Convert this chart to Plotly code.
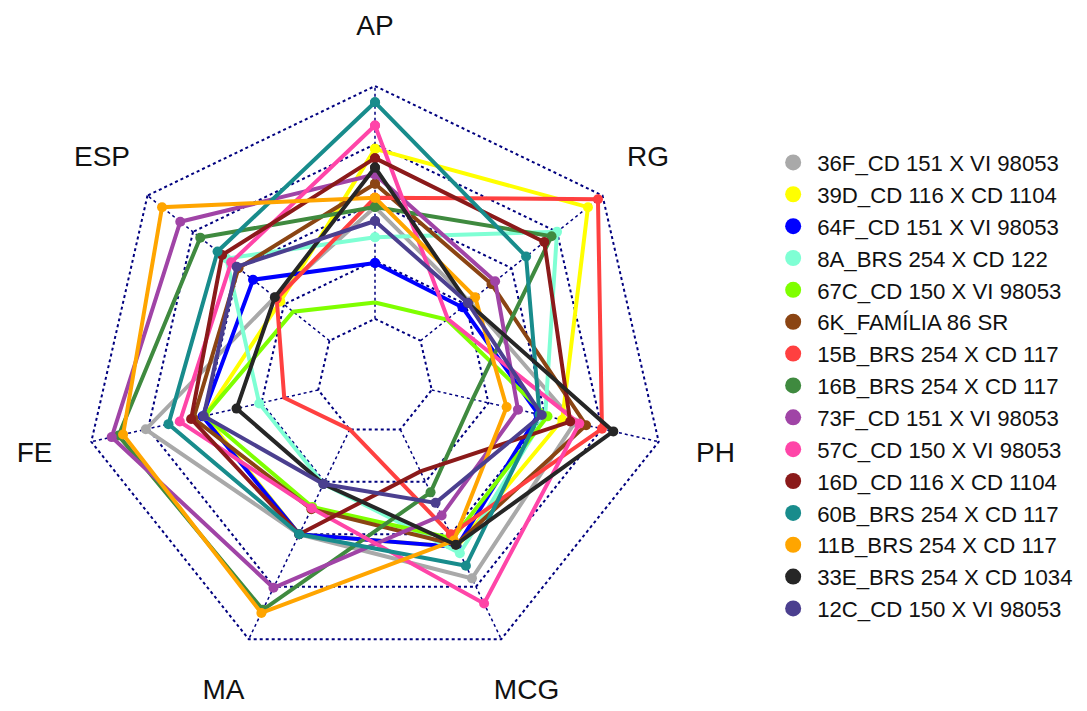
import math
import plotly.graph_objects as go

axes = ["AP", "RG", "PH", "MCG", "MA", "FE", "ESP"]

names = [
    "36F_CD 151 X VI 98053",
    "39D_CD 116 X CD 1104",
    "64F_CD 151 X VI 98053",
    "8A_BRS 254 X CD 122",
    "67C_CD 150 X VI 98053",
    "6K_FAMÍLIA 86 SR",
    "15B_BRS 254 X CD 117",
    "16B_BRS 254 X CD 117",
    "73F_CD 151 X VI 98053",
    "57C_CD 150 X VI 98053",
    "16D_CD 116 X CD 1104",
    "60B_BRS 254 X CD 117",
    "11B_BRS 254 X CD 117",
    "33E_BRS 254 X CD 1034",
    "12C_CD 150 X VI 98053",
]

colors = [
    "#A9A9A9", "#FFFF00", "#0000FF", "#7FFFD4", "#7FFF00",
    "#8B4513", "#FF4040", "#3F8A3F", "#A044A6", "#FF45A8",
    "#8B1A1A", "#188C8C", "#FFA500", "#262626", "#4B3F8F",
]

# normalized scores (0 = inner ring, 1 = outer ring), order: AP, RG, PH, MCG, MA, FE, ESP
v_36F = [0.48, 0.27, 0.63, 0.71, 0.50, 0.76, 0.30]
v_39D = [0.73, 0.92, 0.575, 0.56, 0.50, 0.50, 0.27]
v_64F = [0.24, 0.23, 0.47, 0.56, 0.50, 0.51, 0.42]
v_8A = [0.35, 0.75, 0.50, 0.59, 0.26, 0.26, 0.566]
v_67C = [0.07, 0.145, 0.51, 0.52, 0.37, 0.50, 0.20]
v_6K = [0.58, 0.39, 0.68, 0.55, 0.38, 0.55, 0.50]
v_15B = [0.52, 0.975, 0.75, 0.50, 0.0, 0.15, 0.29]
v_16B = [0.48, 0.72, 0.18, 0.30, 0.86, 0.88, 0.71]
v_73F = [0.62, 0.41, 0.38, 0.41, 0.755, 0.91, 0.82]
v_57C = [0.83, 0.15, 0.65, 0.83, 0.376, 0.61, 0.54]
v_16D = [0.69, 0.68, 0.61, 0.20, 0.50, 0.56, 0.59]
v_60B = [0.93, 0.58, 0.475, 0.65, 0.50, 0.66, 0.615]
v_11B = [0.52, 0.30, 0.33, 0.53, 0.875, 0.86, 0.92]
v_33E = [0.65, 0.26, 0.80, 0.55, 0.26, 0.36, 0.30]
v_12C = [0.42, 0.26, 0.485, 0.35, 0.26, 0.505, 0.51]

series = [v_36F, v_39D, v_64F, v_8A, v_67C, v_6K, v_15B, v_16B,
          v_73F, v_57C, v_16D, v_60B, v_11B, v_33E, v_12C]

grid_levels = [0, 0.25, 0.5, 0.75, 1.0]
R_MIN, R_MAX = -0.25, 1.02          # inner hole = 1/5 of the outer ring
LABEL_FRAC = 1.2                    # labels at 1.2 x outer ring radius
FONT = "Arial, Liberation Sans, sans-serif"
GRID = "#00007F"
W, H = 1087, 711

dom_x = [0.07299, 0.61698]
dom_y = [0.05392, 0.88560]

# overlay cartesian frame (full figure) sharing the polar centre and scale
span = (R_MAX - R_MIN) / (1 - R_MIN)          # polar domain half-size, in outer-ring units
cx = (dom_x[0] + dom_x[1]) / 2
cy = (dom_y[0] + dom_y[1]) / 2
half_px = (dom_x[1] - dom_x[0]) * W / 2
unit_px = half_px / span
x_range = [-cx * W / unit_px, (1 - cx) * W / unit_px]
y_range = [-cy * H / unit_px, (1 - cy) * H / unit_px]

fig = go.Figure()

# spokes from inner ring to outer ring
spoke_r, spoke_t = [], []
for a in axes:
    spoke_r += [0, 1, None]
    spoke_t += [a, a, None]
fig.add_trace(go.Scatterpolar(r=spoke_r, theta=spoke_t, mode="lines",
                              line=dict(color=GRID, width=1.5, dash="dot"),
                              showlegend=False, hoverinfo="skip"))

for name, vals, col in zip(names, series, colors):
    fig.add_trace(go.Scatterpolar(
        r=vals + [vals[0]], theta=axes + [axes[0]],
        mode="lines+markers", name=name,
        line=dict(color=col, width=4),
        marker=dict(color=col, size=10),
        showlegend=False,
    ))

# legend entries (dots only)
for i, (name, col) in enumerate(zip(names, colors)):
    fig.add_trace(go.Scatterpolar(
        r=[None], theta=[None], mode="markers", name=name,
        marker=dict(color=col, size=16), legendgroup=f"g{i}",
        showlegend=True,
    ))

# axis labels at 1.2 x outer radius along each axis direction
n = len(axes)
lab_x = [LABEL_FRAC * math.cos(math.radians(90 - i * 360 / n)) for i in range(n)]
lab_y = [LABEL_FRAC * math.sin(math.radians(90 - i * 360 / n)) for i in range(n)]
fig.add_trace(go.Scatter(x=lab_x, y=lab_y, mode="text", text=axes,
                         textposition="middle center",
                         textfont=dict(size=28, color="#111111", family=FONT),
                         showlegend=False, hoverinfo="skip"))

fig.update_layout(
    width=W, height=H,
    margin=dict(l=0, r=0, t=0, b=0),
    paper_bgcolor="white",
    plot_bgcolor="rgba(0,0,0,0)",
    font=dict(family=FONT, color="#111111"),
    xaxis=dict(domain=[0, 1], range=x_range, visible=False, fixedrange=True),
    yaxis=dict(domain=[0, 1], range=y_range, visible=False, fixedrange=True),
    polar=dict(
        domain=dict(x=dom_x, y=dom_y),
        bgcolor="white",
        gridshape="linear",
        radialaxis=dict(range=[R_MIN, R_MAX], tickvals=grid_levels,
                        showticklabels=False, ticks="", showline=False,
                        gridcolor=GRID, griddash="dot", gridwidth=1.5),
        angularaxis=dict(categoryorder="array", categoryarray=axes,
                         direction="clockwise", rotation=90,
                         showgrid=False, showline=False, showticklabels=False, ticks=""),
    ),
    legend=dict(x=0.7076, y=0.801, xanchor="left", yanchor="top",
                font=dict(size=22.2, family=FONT, color="#111111"),
                itemwidth=38, tracegroupgap=0, bgcolor="rgba(0,0,0,0)"),
)

fig.write_html("out.html", config={"displayModeBar": False},
               post_script="document.body.style.margin='0px';")
